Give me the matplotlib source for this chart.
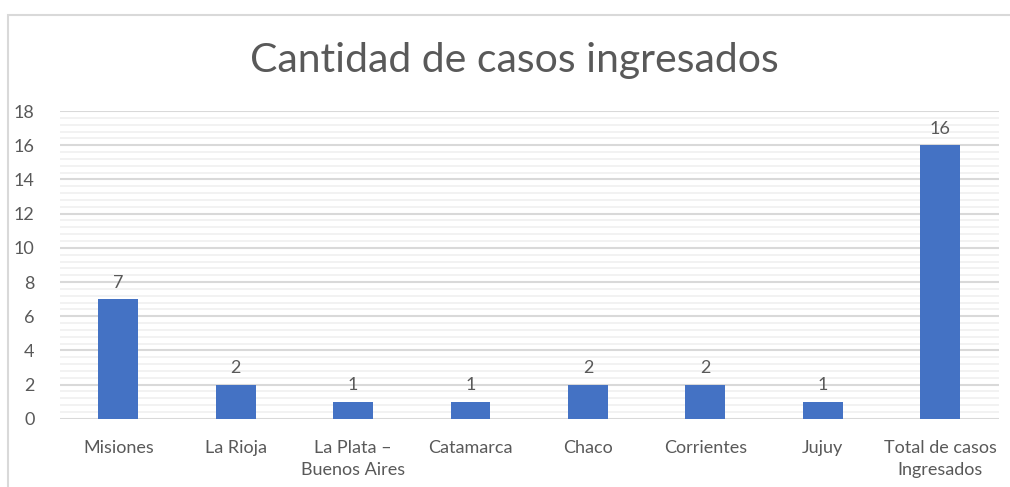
import matplotlib
import numpy as np
from matplotlib import pyplot as plt
from matplotlib.patches import Rectangle

categories = ['Misiones', 'La Rioja', 'La Plata –\nBuenos Aires', 'Catamarca',
              'Chaco', 'Corrientes', 'Jujuy', 'Total de casos\nIngresados']
casos = [7, 2, 1, 1, 2, 2, 1, 16]

plt.rcParams['font.family'] = ['Lato', 'DejaVu Sans']
text_color = '#595959'

fig = plt.figure(figsize=(10.1, 4.87), dpi=100)
fig.patches.append(Rectangle((0.008, -0.05), 1.2, 1.019, transform=fig.transFigure,
                             fill=False, edgecolor='#d9d9d9', linewidth=1.5))
ax = fig.add_axes([0.059, 0.14, 0.930, 0.632])

x = np.arange(len(categories))
bars = ax.bar(x, casos, width=0.34, color='#4472C4', zorder=3)
for b, v in zip(bars, casos):
    ax.text(b.get_x() + b.get_width() / 2, v + 0.5, str(v), ha='center', va='bottom',
            fontsize=13, color=text_color)

ax.set_xlim(-0.5, len(categories) - 0.5)
ax.set_ylim(0, 18)
ax.set_yticks(np.arange(0, 19, 2))
ax.set_yticks(np.arange(0, 18.01, 0.4), minor=True)
ax.grid(axis='y', which='major', color='#d9d9d9', linewidth=1.5, zorder=0)
ax.grid(axis='y', which='minor', color='#f0f0f0', linewidth=1.2, zorder=0)
ax.set_xticks(x)
ax.set_xticklabels(categories, fontsize=13, color=text_color, linespacing=1.5)
ax.tick_params(axis='y', labelsize=13, labelcolor=text_color, length=0, pad=18)
ax.tick_params(axis='x', which='both', length=0, pad=15)
ax.tick_params(axis='y', which='minor', length=0)
for s in ax.spines.values():
    s.set_visible(False)

fig.text(0.509, 0.875, 'Cantidad de casos ingresados', ha='center', va='center',
         fontsize=29.5, fontweight='normal', color=text_color)

plt.savefig('out.png')
